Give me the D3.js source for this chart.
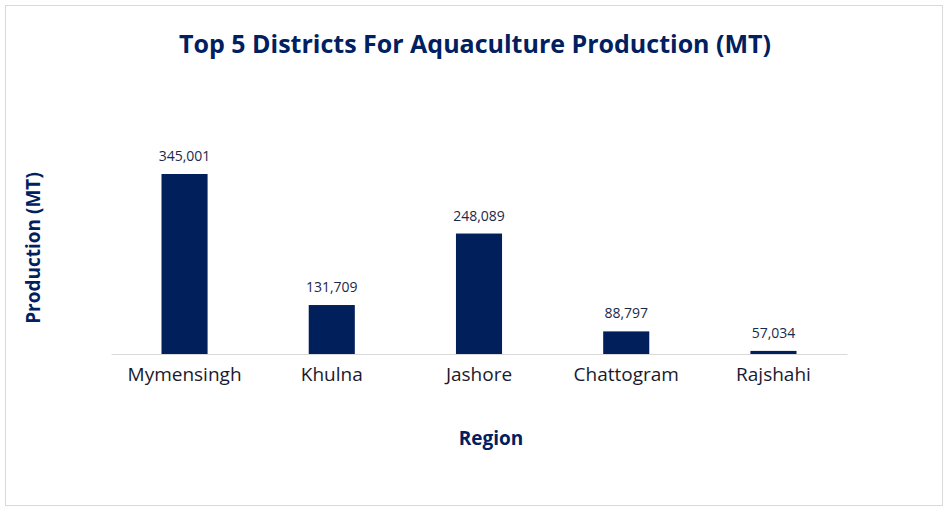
<!DOCTYPE html>
<html><head><meta charset="utf-8">
<script src="https://cdn.jsdelivr.net/npm/d3@7"></script>
<style>body{margin:0;background:#fff}text{font-family:"Open Sans",sans-serif}</style>
</head><body>
<svg id="c" width="949" height="510"></svg>
<script>
const categories=["Mymensingh","Khulna","Jashore","Chattogram","Rajshahi"];
const values=[345001,131709,248089,88797,57034];
const title="Top 5 Districts For Aquaculture Production  (MT)";
const navy="#002060";
const svg=d3.select("#c");
svg.append("rect").attr("x",5.5).attr("y",5.5).attr("width",937).attr("height",500).attr("fill","#fff").attr("stroke","#d9d9d9");
const x=d3.scaleBand().domain(categories).range([111,847]).paddingInner(0.687).paddingOuter(0.343);
const y=d3.scaleLinear().domain([52000,345001]).range([354,174]);
svg.selectAll(".bar").data(values).join("rect").attr("fill","#001f5b")
 .attr("x",(d,i)=>x(categories[i])).attr("width",x.bandwidth())
 .attr("y",d=>y(d)).attr("height",d=>y(52000)-y(d));
svg.selectAll(".lbl").data(values).join("text").attr("text-anchor","middle").attr("font-size",14).attr("fill","#1a2a4a")
 .attr("x",(d,i)=>x(categories[i])+x.bandwidth()/2).attr("y",d=>y(d)-13).text(d3.format(","));
const ax=svg.append("g").attr("transform","translate(0,354)").call(d3.axisBottom(x).tickSize(0).tickPadding(14));
ax.select(".domain").attr("stroke","#d9d9d9");
ax.selectAll("text").attr("font-size",19).attr("fill","#1a1a2e").attr("font-family","Open Sans");
svg.append("text").attr("x",475).attr("y",53).attr("text-anchor","middle").attr("font-size",25).attr("font-weight","bold").attr("fill",navy).text(title);
svg.append("text").attr("x",491).attr("y",445).attr("text-anchor","middle").attr("font-size",19).attr("font-weight","bold").attr("fill",navy).text("Region");
svg.append("text").attr("transform","translate(40,248) rotate(-90)").attr("text-anchor","middle").attr("font-size",19).attr("font-weight","bold").attr("fill",navy).text("Production (MT)");
</script></body></html>
